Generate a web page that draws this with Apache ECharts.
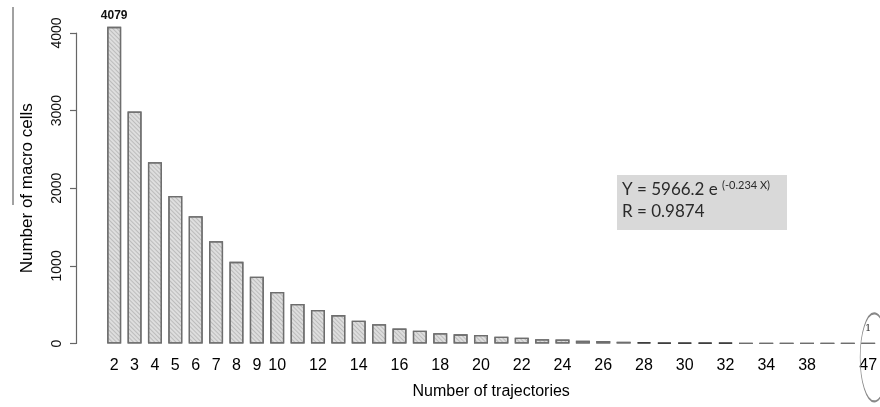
<!DOCTYPE html>
<html lang="en">
<head>
    <meta charset="UTF-8">
    <title>Number of macro cells by number of trajectories</title>
    <style>
        *{ margin: 0; }
        html,body{ height: 100%; background: #fff; }
        #chart{ width: 880px; height: 407px; }
    </style>
    <script src="https://cdn.jsdelivr.net/npm/echarts@6/dist/echarts.min.js"></script>
</head>
<body>
<div id="chart"></div>
<script>
    // number of trajectories (x categories)
    const trajectories = ['2','3','4','5','6','7','8','9','10','11','12','13','14','15','16','17','18','19','20',
        '21','22','23','24','25','26','27','28','29','30','31','32','33','34','36','38','40','43','47'];
    // number of macro cells per category
    const macroCells = [4079, 2990, 2335, 1900, 1640, 1318, 1052, 860, 665, 510, 432, 366, 294, 248, 192, 165,
        132, 118, 110, 88, 75, 55, 52, 36, 32, 22, 14, 12, 11, 10, 9, 3, 2, 2, 1, 1, 1, 1];
    // labels that R actually printed under the bars
    const shownLabels = ['2','3','4','5','6','7','8','9','10','12','14','16','18','20','22','24','26','28','30','32','34','38','47'];
    const yTicks = [0, 1000, 2000, 3000, 4000];

    const font = 'Liberation Sans, Arial, sans-serif';
    const last = trajectories.length - 1;

    const barData = macroCells.map(function (v, i) {
        let item = {value: v};
        if (i === 0) {
            item.label = {show: true, position: 'top', distance: 5, fontSize: 12, fontWeight: 'bold', color: '#111'};
        }
        if (i === last) {
            item.label = {show: true, position: 'top', distance: 9, fontSize: 10, color: '#333', fontFamily: 'DejaVu Serif, serif'};
        }
        // the almost empty bars read as dark dashes in the original
        if (v > 3 && v < 20) {
            item.itemStyle = {borderColor: '#333'};
        }
        return item;
    });

    var myChart = echarts.init(document.getElementById('chart'));
    myChart.setOption({
        animation: false,
        textStyle: {fontFamily: font},
        grid: {left: 104, right: -3, top: 33, bottom: 63.5},
        xAxis: {
            type: 'category',
            data: trajectories,
            axisLine: {show: false},
            axisTick: {show: false},
            axisLabel: {
                interval: function (index, value) { return shownLabels.indexOf(value) >= 0; },
                fontSize: 16, color: '#000', margin: 14, fontFamily: font
            },
            name: 'Number of trajectories',
            nameLocation: 'middle',
            nameGap: 40,
            nameTextStyle: {fontSize: 16, color: '#000', fontFamily: font}
        },
        yAxis: {
            type: 'value',
            min: yTicks[0],
            max: yTicks[yTicks.length - 1],
            interval: 1000,
            offset: 28,
            axisLine: {show: true, lineStyle: {color: '#666', width: 1.2}},
            axisTick: {show: true, length: 6, lineStyle: {color: '#666', width: 1.2}},
            axisLabel: {
                rotate: 90, fontSize: 14, color: '#111', margin: 12, fontFamily: font,
                formatter: function (v) { return String(v); }
            },
            splitLine: {show: false},
            name: 'Number of macro cells',
            nameLocation: 'middle',
            nameGap: 40,
            nameTextStyle: {fontSize: 17, color: '#000', fontFamily: font}
        },
        series: [{
            type: 'bar',
            data: barData,
            barWidth: 14,
            clip: false,
            itemStyle: {
                color: '#dedede',
                borderColor: '#6e6e6e',
                borderWidth: 1.3,
                decal: {
                    symbol: 'rect',
                    symbolSize: 1,
                    dashArrayX: [1, 0],
                    dashArrayY: [1, 2],
                    rotation: Math.PI / 4,
                    color: 'rgba(110,110,110,0.3)'
                }
            },
            markPoint: {
                silent: true,
                symbol: 'circle',
                symbolSize: [28, 88],
                symbolOffset: [6, 14],
                itemStyle: {color: 'rgba(0,0,0,0)', borderColor: '#888', borderWidth: 1.2},
                label: {show: false},
                data: [{coord: [trajectories[last], macroCells[last]]}]
            }
        }],
        graphic: [
            {type: 'line', shape: {x1: 13, y1: 7, x2: 13, y2: 205}, style: {stroke: '#444', lineWidth: 1}},
            {type: 'rect', shape: {x: 617, y: 175, width: 170, height: 55}, style: {fill: '#d9d9d9'}},
            {type: 'text', left: 622, top: 181, style: {text: 'Y = 5966.2 e', font: '17px Lato, sans-serif', fill: '#2a2a2a'}},
            {type: 'text', left: 722, top: 180, style: {text: '(-0.234 X)', font: '11px Lato, sans-serif', fill: '#2a2a2a'}},
            {type: 'text', left: 622, top: 203, style: {text: 'R = 0.9874', font: '17px Lato, sans-serif', fill: '#2a2a2a'}}
        ]
    });
</script>
</body>
</html>
